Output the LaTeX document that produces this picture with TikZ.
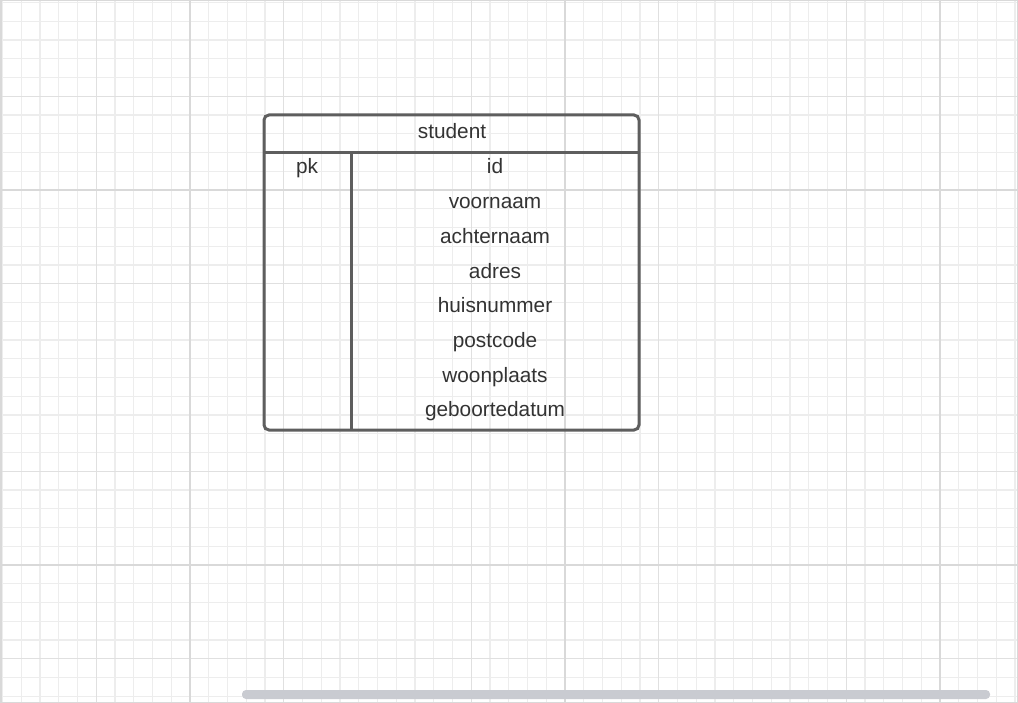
\documentclass[tikz,border=0pt]{standalone}
\usepackage{fontspec}
\setmainfont{Liberation Sans}
\definecolor{gridminor}{HTML}{EDEDED}
\definecolor{gridmid}{HTML}{E0E0E0}
\definecolor{gridmajor}{HTML}{D9D9D9}
\definecolor{tableline}{HTML}{5E5E5E}
\definecolor{celltext}{HTML}{333333}
\definecolor{scrollgray}{HTML}{C9CBD1}
\begin{document}
\begin{tikzpicture}[x=1pt,y=-1pt,
  cell/.style={text=celltext,anchor=base,inner sep=0pt,font=\fontsize{20.8}{24}\selectfont}]
\useasboundingbox (0,0) rectangle (1018,703);
\fill[white] (0,0) rectangle (1018,703);
% grid
\foreach \i in {0,...,54}
{ \draw[gridminor,line width=1.2] (2.5+18.75*\i,0)--(2.5+18.75*\i,703);
}
\foreach \i in {0,...,37}
{ \draw[gridminor,line width=1.2] (0,2.5+18.75*\i)--(1018,2.5+18.75*\i);
}
\foreach \i in {5,15,25,35,45}
{ \draw[gridmid,line width=1.2] (2.5+18.75*\i,0)--(2.5+18.75*\i,703);
}
\foreach \i in {5,15,25,35}
{ \draw[gridmid,line width=1.2] (0,2.5+18.75*\i)--(1018,2.5+18.75*\i);
}
\foreach \i in {10,30,50}
{ \draw[gridmajor,line width=1.8] (2.5+18.75*\i,0)--(2.5+18.75*\i,703);
}
\foreach \i in {10,30}
{ \draw[gridmajor,line width=1.8] (0,2.5+18.75*\i)--(1018,2.5+18.75*\i);
}
\draw[gridmajor,line width=1.5] (0.75,0.75) rectangle (1017.25,702.25);
\fill[scrollgray,rounded corners=4] (242,690) rectangle (990,699);
% table
\draw[tableline,line width=3,rounded corners=5] (264,115) rectangle (639,430);
\draw[tableline,line width=3] (264,153)--(639,153);
\draw[tableline,line width=3] (351,153)--(351,430);
\node[cell] (title) at (452,138.5) {student};
\node[cell] (pk) at (307,174) {pk};
\foreach \name [count=\k] in {id,voornaam,achternaam,adres,huisnummer,postcode,woonplaats,geboortedatum}
{ \node[cell] (row\k) at (495,174+34.67*\k-34.67) {\name};
}
\end{tikzpicture}
\end{document}
